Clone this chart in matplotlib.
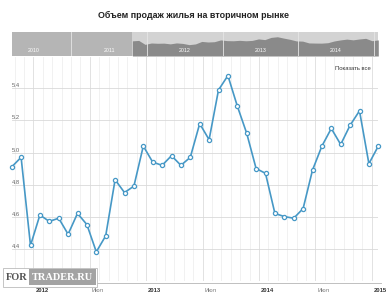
import matplotlib.pyplot as plt
import matplotlib.transforms as mtransforms
from matplotlib.patches import Rectangle
import numpy as np

plt.rcParams['font.family'] = ['Liberation Sans', 'DejaVu Sans']

title = "Объем продаж жилья на вторичном рынке"

# monthly values, Oct 2011 .. Jan 2015
values = [4.91, 4.97, 4.42, 4.61, 4.57, 4.59, 4.49, 4.62, 4.55, 4.38,
          4.48, 4.83, 4.75, 4.79, 5.04, 4.94, 4.92, 4.98, 4.92, 4.97,
          5.18, 5.08, 5.39, 5.48, 5.29, 5.12, 4.90, 4.87, 4.62, 4.60,
          4.59, 4.65, 4.89, 5.04, 5.15, 5.05, 5.17, 5.26, 4.93, 5.04]
first_month = 9  # months since Jan 2011 (Oct 2011)

tick_months = [12, 18, 24, 30, 36, 42, 48]
tick_labels = ["2012", "Июл", "2013", "Июл", "2014", "Июл", "2015"]
y_grid = [4.2, 4.4, 4.6, 4.8, 5.0, 5.2, 5.4]
y_labels = [4.4, 4.6, 4.8, 5.0, 5.2, 5.4]  # 4.2 sits under the watermark

nav_years = ["2010", "2011", "2012", "2013", "2014"]
nav_year_start = [-12, 0, 12, 24, 36]

x = np.arange(len(values)) + first_month + 0.7
line_color = "#4698c6"

W, H = 390, 293
fig = plt.figure(figsize=(W / 100, H / 100), dpi=100)


def rect(l, t, r, b):
    return [l / W, 1 - b / H, (r - l) / W, (b - t) / H]


fig.text(194 / W, 1 - 15 / H, title, ha="center", va="center",
         fontsize=6.4, fontweight="bold", color="#222222")

# navigator
nav = fig.add_axes(rect(12, 32.3, 378.3, 56))
nav.set_xlim(x[0] - 19.1, x[-1])
nav.set_ylim(2.8, 6.1)
nav.axis("off")
nav.add_patch(Rectangle((nav.get_xlim()[0], 2.8), x[0] - nav.get_xlim()[0], 3.3,
                        color="#b5b5b5", lw=0))
nav.add_patch(Rectangle((x[0], 2.8), x[-1] - x[0], 3.3, color="#d3d3d3", lw=0))
nav.fill_between(x, 2.8, values, color="#8a8a8a", lw=0)
for ys in nav_year_start[1:] + [48]:
    nav.axvline(ys, color="#e6e6e6", lw=0.6)
for lab, ys in zip(nav_years, nav_year_start):
    nav.text(ys + 6, 3.2, lab, ha="center", va="bottom", fontsize=3.8,
             color="white")

# main chart
ax = fig.add_axes(rect(11.7, 57, 378.3, 280.7))
ax.set_xlim(x[0], x[-1])
ax.set_ylim(4.2, 5.596)
for s in ax.spines.values():
    s.set_visible(False)
ax.tick_params(left=False, bottom=False, labelleft=False, labelbottom=False)

for m in range(int(np.ceil(x[0])), int(x[-1]) + 1):
    ax.axvline(m, color="#dddddd" if m in tick_months else "#efefef",
               lw=0.6, zorder=0)
for yv in y_grid:
    ax.axhline(yv, color="#d9d9d9", lw=0.6, zorder=0)
for yv in y_labels:
    ax.text(0.0, yv, "%.1f" % yv, transform=ax.get_yaxis_transform(),
            ha="left", va="bottom", fontsize=4.2, color="#666666")
ax.plot(x, values, color=line_color, lw=1.2, marker="o", ms=3.0,
        mfc="white", mec=line_color, mew=0.9, zorder=3, clip_on=False)

# x axis line and labels
fig.add_artist(plt.Line2D([11.7 / W, 381 / W], [1 - 282.5 / H] * 2,
                          color="#c0c0c0", lw=0.7))
tr = mtransforms.offset_copy(ax.get_xaxis_transform(), fig=fig, x=1.5, y=0,
                             units="points")
for m, lab in zip(tick_months, tick_labels):
    bold = lab != "Июл"
    ax.text(m, -0.045, lab, transform=tr, ha="left", va="center",
            fontsize=4.2, fontweight="bold" if bold else "normal",
            color="#333333" if bold else "#777777", clip_on=False)

fig.text(353 / W, 1 - 68 / H, "Показать все", ha="center", va="center",
         fontsize=4.2, color="#333333")

# watermark
fig.add_artist(Rectangle((3.3 / W, 1 - 287 / H), 93.5 / W, 19 / H,
                         transform=fig.transFigure, facecolor="white",
                         edgecolor="#bbbbbb", lw=0.6, zorder=10))
fig.add_artist(Rectangle((29.5 / W, 1 - 285 / H), 66.5 / W, 16 / H,
                         transform=fig.transFigure, facecolor="#a3a3a3",
                         lw=0, zorder=11))
fig.text(17 / W, 1 - 277 / H, "FOR", ha="center", va="center",
         fontsize=7.5, fontweight="bold", family="Liberation Serif",
         color="#555555", zorder=12)
fig.text(62.5 / W, 1 - 277 / H, "TRADER.RU", ha="center", va="center",
         fontsize=7.5, fontweight="bold", family="Liberation Serif",
         color="white", zorder=12)

fig.savefig("out.png", dpi=100)
